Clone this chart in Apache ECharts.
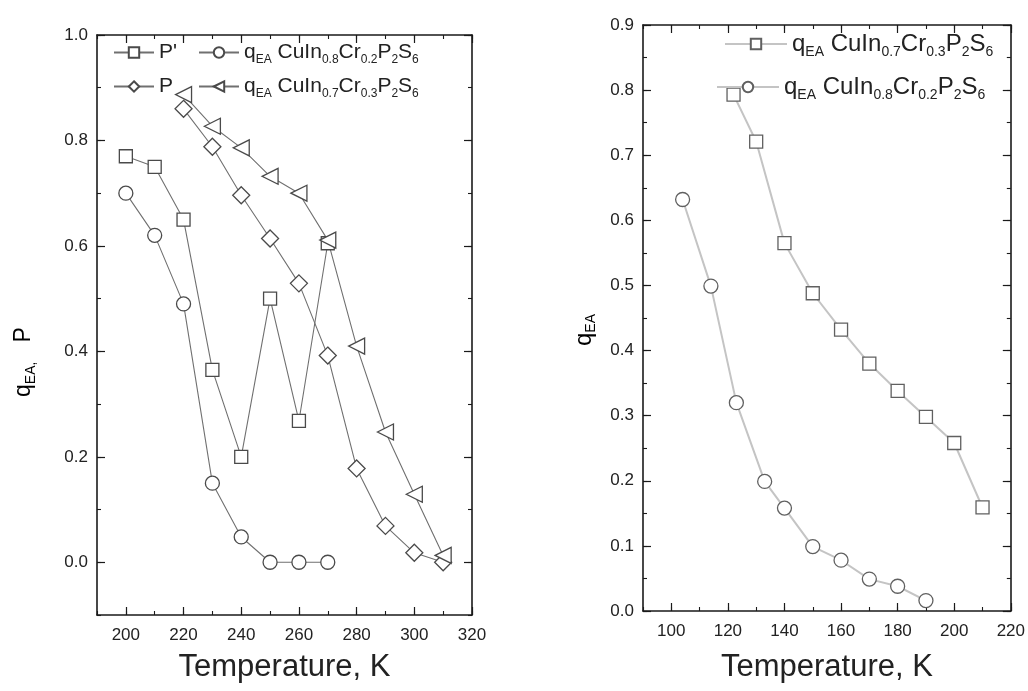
<!DOCTYPE html>
<html>
<head>
<meta charset="utf-8">
<script src="https://cdn.jsdelivr.net/npm/echarts@6/dist/echarts.min.js"></script>
<style>
html,body{margin:0;padding:0;background:#fff;}
#chart{width:1028px;height:691px;}
</style>
</head>
<body>
<div id="chart"></div>
<script>
// ---------- Data ----------
// Left panel
const tLeftA   = [200, 210, 220, 230, 240, 250, 260, 270];
const pPrime   = [0.77, 0.75, 0.65, 0.365, 0.20, 0.50, 0.268, 0.605];
const qEA08L   = [0.70, 0.62, 0.49, 0.15, 0.048, 0.0, 0.0, 0.0];
const tLeftB   = [220, 230, 240, 250, 260, 270, 280, 290, 300, 310];
const pVals    = [0.86, 0.788, 0.696, 0.614, 0.529, 0.392, 0.178, 0.069, 0.018, 0.0];
const qEA07L   = [0.887, 0.827, 0.786, 0.732, 0.70, 0.611, 0.41, 0.247, 0.129, 0.013];
// Right panel
const tRight07 = [122, 130, 140, 150, 160, 170, 180, 190, 200, 210];
const qRight07 = [0.793, 0.721, 0.565, 0.488, 0.432, 0.380, 0.338, 0.298, 0.258, 0.159];
const tRight08 = [104, 114, 123, 133, 140, 150, 160, 170, 180, 190];
const qRight08 = [0.632, 0.499, 0.320, 0.199, 0.158, 0.099, 0.078, 0.049, 0.038, 0.016];
// Tick labels
const leftXTicks  = [200, 220, 240, 260, 280, 300, 320];
const leftYTicks  = [0.0, 0.2, 0.4, 0.6, 0.8, 1.0];
const rightXTicks = [100, 120, 140, 160, 180, 200, 220];
const rightYTicks = [0.0, 0.1, 0.2, 0.3, 0.4, 0.5, 0.6, 0.7, 0.8, 0.9];
// Text
const xTitle = 'Temperature, K';

// ---------- Styling ----------
const FONT = '"Liberation Sans", Arial, Helvetica, sans-serif';
const INK = '#1a1a1a';

function zip(a, b) { return a.map((v, i) => [v, b[i]]); }

function makeAxes(g, dim, o) {
  const isX = dim === 'x';
  const pos = isX ? 'bottom' : 'left';
  const opp = isX ? 'top' : 'right';
  const line = { show: true, onZero: false, lineStyle: { color: INK, width: 1.6 } };
  const base = { gridIndex: g, type: 'value', min: o.min, max: o.max, splitLine: { show: false }, silent: true };
  const major = Object.assign({}, base, {
    position: pos,
    axisLine: line,
    axisTick: { show: true, inside: true, length: 8, customValues: o.majors, lineStyle: { color: INK, width: 1.2 } },
    axisLabel: {
      show: true, customValues: o.majors, fontSize: o.fontSize, color: '#222', fontFamily: FONT,
      margin: o.margin, formatter: o.fmt
    }
  });
  if (o.name) {
    major.name = o.name;
    major.nameLocation = 'middle';
    major.nameGap = o.nameGap;
    major.nameTextStyle = { fontSize: o.nameSize, fontFamily: FONT, color: '#222' };
  }
  const minor = Object.assign({}, base, {
    position: pos, interval: o.minor,
    axisLine: { show: false, onZero: false },
    axisTick: { show: true, inside: true, length: 4, lineStyle: { color: INK, width: 1.1 } },
    axisLabel: { show: false }
  });
  const majorOpp = Object.assign({}, base, {
    position: opp,
    axisLine: line,
    axisTick: { show: true, inside: true, length: 8, customValues: o.majors, lineStyle: { color: INK, width: 1.2 } },
    axisLabel: { show: false }
  });
  const minorOpp = Object.assign({}, base, {
    position: opp, interval: o.minor,
    axisLine: { show: false, onZero: false },
    axisTick: { show: true, inside: true, length: 4, lineStyle: { color: INK, width: 1.1 } },
    axisLabel: { show: false }
  });
  return [major, minor, majorOpp, minorOpp];
}

const xAxes = [].concat(
  makeAxes(0, 'x', { min: 190, max: 320, minor: 10, majors: leftXTicks, fontSize: 17, margin: 12,
    fmt: v => String(v), name: xTitle, nameGap: 37, nameSize: 31 }),
  makeAxes(1, 'x', { min: 90, max: 220, minor: 10, majors: rightXTicks, fontSize: 17, margin: 12,
    fmt: v => String(v), name: xTitle, nameGap: 41, nameSize: 31 })
);
const yAxes = [].concat(
  makeAxes(0, 'y', { min: -0.1, max: 1.0, minor: 0.1, majors: leftYTicks, fontSize: 17, margin: 9,
    fmt: v => v.toFixed(1) }),
  makeAxes(1, 'y', { min: 0, max: 0.9, minor: 0.05, majors: rightYTicks, fontSize: 17, margin: 9,
    fmt: v => v.toFixed(1) })
);

// Rich legend / name texts
const legendText = {
  "P'": "{b|P'}",
  "P": "{b|P}",
  "qL08": "{b|q}{s|EA}{b| CuIn}{s|0.8}{b|Cr}{s|0.2}{b|P}{s|2}{b|S}{s|6}",
  "qL07": "{b|q}{s|EA}{b| CuIn}{s|0.7}{b|Cr}{s|0.3}{b|P}{s|2}{b|S}{s|6}",
  "qR07": "{b|q}{s|EA}{b| CuIn}{s|0.7}{b|Cr}{s|0.3}{b|P}{s|2}{b|S}{s|6}",
  "qR08": "{b|q}{s|EA}{b| CuIn}{s|0.8}{b|Cr}{s|0.2}{b|P}{s|2}{b|S}{s|6}"
};
function richFor(size, subSize, lh) {
  return {
    b: { fontSize: size, fontFamily: FONT, color: '#222', lineHeight: lh },
    s: { fontSize: subSize, fontFamily: FONT, color: '#222', lineHeight: subSize, verticalAlign: 'bottom' }
  };
}
function legendItem(name, left, top, size, subSize, w) {
  return {
    data: [name], left: left, top: top, orient: 'horizontal',
    itemWidth: w, itemHeight: 13, itemGap: 0, padding: 0, selectedMode: false,
    formatter: n => legendText[n],
    textStyle: { fontFamily: FONT, fontSize: size, color: '#222', padding: [0, 0, 0, 0], rich: richFor(size, subSize, size + 6) }
  };
}

const leftLine = '#707070', leftMark = '#4a4a4a';
const rightLine = '#c4c4c4', rightMark = '#606060';

function lineSeries(name, xi, yi, data, symbol, size, rot, lc, mc, lw) {
  return {
    name: name, type: 'line', xAxisIndex: xi, yAxisIndex: yi, data: data,
    symbol: symbol, symbolSize: size, symbolRotate: rot, showSymbol: true,
    lineStyle: { color: lc, width: lw },
    itemStyle: { color: '#fff', borderColor: mc, borderWidth: 1.3 },
    emphasis: { disabled: true }, z: 3
  };
}

const option = {
  backgroundColor: '#fff',
  animation: false,
  grid: [
    { left: 97, top: 35, width: 375, height: 580, containLabel: false },
    { left: 643, top: 25, width: 369, height: 586, containLabel: false }
  ],
  xAxis: xAxes,
  yAxis: yAxes,
  legend: [
    legendItem("P'", 113, 42, 21, 12, 40),
    legendItem("qL08", 198, 42, 21, 12, 40),
    legendItem("P", 113, 76, 21, 12, 40),
    legendItem("qL07", 198, 76, 21, 12, 40),
    legendItem("qR07", 724, 32, 24, 14, 62),
    legendItem("qR08", 716, 75, 24, 14, 62)
  ],
  graphic: [
    { type: 'text', x: 24, y: 362, rotation: Math.PI / 2, silent: true,
      style: { text: '{b|q}{s|EA,}{b|   P}', align: 'center', verticalAlign: 'middle',
               rich: richFor(23, 14, 28) } },
    { type: 'text', x: 584, y: 330, rotation: Math.PI / 2, silent: true,
      style: { text: '{b|q}{s|EA}', align: 'center', verticalAlign: 'middle',
               rich: richFor(24, 14, 28) } }
  ],
  series: [
    lineSeries("P'",  0, 0, zip(tLeftA, pPrime), 'rect', 13, 0, leftLine, leftMark, 1.1),
    lineSeries("qL08", 0, 0, zip(tLeftA, qEA08L), 'circle', 14, 0, leftLine, leftMark, 1.1),
    lineSeries("P",   0, 0, zip(tLeftB, pVals), 'diamond', 17, 0, leftLine, leftMark, 1.1),
    lineSeries("qL07", 0, 0, zip(tLeftB, qEA07L), 'triangle', 16, 90, leftLine, leftMark, 1.1),
    lineSeries("qR07", 4, 4, zip(tRight07, qRight07), 'rect', 13, 0, rightLine, rightMark, 2),
    lineSeries("qR08", 4, 4, zip(tRight08, qRight08), 'circle', 14, 0, rightLine, rightMark, 2)
  ]
};

const chart = echarts.init(document.getElementById('chart'), null, { renderer: 'canvas' });
chart.setOption(option);
</script>
</body>
</html>
